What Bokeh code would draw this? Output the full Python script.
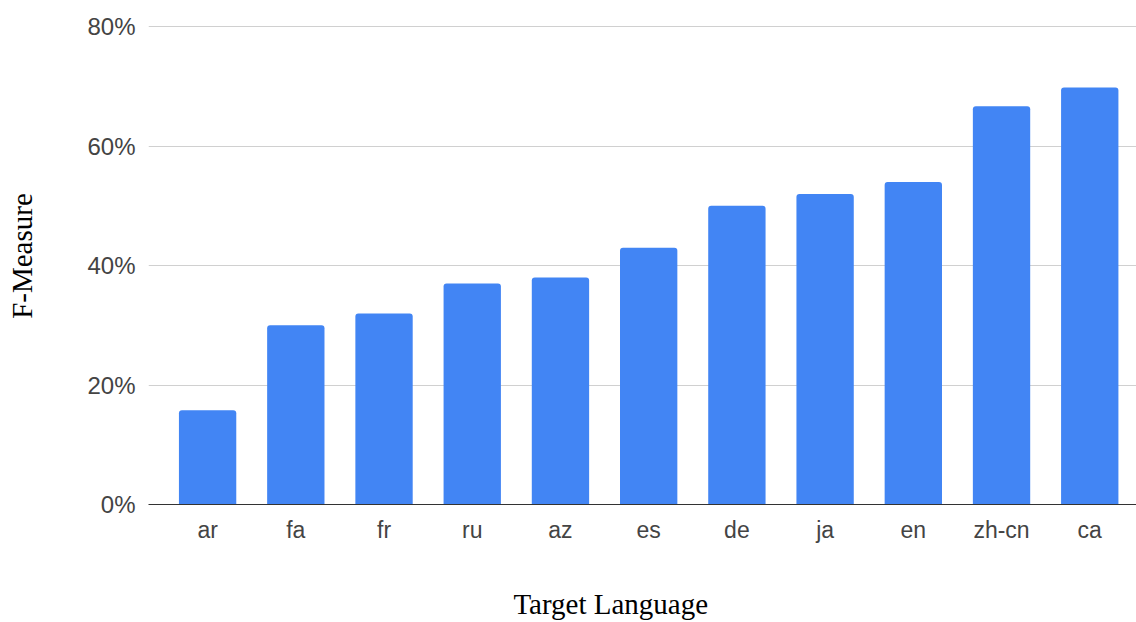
from bokeh.plotting import figure
from bokeh.models import (ColumnDataSource, Range1d, FixedTicker,
                          NumeralTickFormatter, LinearAxis)
from bokeh.embed import file_html
from bokeh.resources import INLINE

# F-measure per target language
languages = ["ar", "fa", "fr", "ru", "az", "es", "de", "ja", "en", "zh-cn", "ca"]
f_measure = [0.158, 0.30, 0.32, 0.37, 0.38, 0.43, 0.50, 0.52, 0.54, 0.667, 0.698]
y_ticks = [0.0, 0.2, 0.4, 0.6, 0.8]
x_title = "Target Language"
y_title = "F-Measure"

positions = list(range(len(languages)))
source = ColumnDataSource(data=dict(x=positions, top=f_measure, lang=languages))

p = figure(width=1136, height=622, output_backend="svg", toolbar_location=None,
           x_range=Range1d(-0.67, 10.53), y_range=Range1d(0, 0.802),
           min_border_left=148, min_border_right=0, min_border_top=25,
           min_border_bottom=117)
p.outline_line_color = None
p.background_fill_color = "white"
p.border_fill_color = "white"

p.vbar(x="x", top="top", bottom=0, width=0.65, source=source,
       fill_color="#4285F4", line_color=None, border_radius=(3, 3, 0, 0))

# x axis: language names under each bar
p.xaxis.ticker = FixedTicker(ticks=positions)
p.xaxis.major_label_overrides = {i: name for i, name in enumerate(languages)}
p.xaxis.major_tick_line_color = None
p.xaxis.minor_tick_line_color = None
p.xaxis.major_tick_out = 0
p.xaxis.axis_line_color = "#333333"
p.xaxis.axis_line_width = 1
p.xaxis.major_label_standoff = 12
p.xaxis.major_label_text_font = "Liberation Sans"
p.xaxis.major_label_text_font_size = "23px"
p.xaxis.major_label_text_color = "#444444"

# y axis: percentages
p.yaxis.ticker = FixedTicker(ticks=y_ticks)
p.yaxis.formatter = NumeralTickFormatter(format="0%")
p.yaxis.axis_line_color = None
p.yaxis.major_tick_line_color = None
p.yaxis.minor_tick_line_color = None
p.yaxis.major_tick_out = 0
p.yaxis.major_label_standoff = 13
p.yaxis.major_label_text_font = "Liberation Sans"
p.yaxis.major_label_text_font_size = "24px"
p.yaxis.major_label_text_color = "#444444"

p.xgrid.grid_line_color = None
p.ygrid.ticker = FixedTicker(ticks=y_ticks)
p.ygrid.grid_line_color = "#d0d0d0"
p.ygrid.grid_line_width = 1


def title_axis(tick, text, standoff, orientation="horizontal"):
    """An extra bare axis whose single tick label serves as an axis title."""
    ax = LinearAxis(ticker=FixedTicker(ticks=[tick]),
                    major_label_overrides={tick: text},
                    major_label_orientation=orientation,
                    major_label_standoff=standoff,
                    major_label_text_font="Liberation Serif",
                    major_label_text_font_size="29px",
                    major_label_text_color="#000000",
                    axis_line_color=None, major_tick_line_color=None,
                    minor_tick_line_color=None, major_tick_out=0,
                    major_tick_in=0)
    return ax


p.add_layout(title_axis(4.57, x_title, 42), "below")
p.add_layout(title_axis(0.416, y_title, 46, "vertical"), "left")

open("out.html", "w").write(file_html(p, INLINE))
